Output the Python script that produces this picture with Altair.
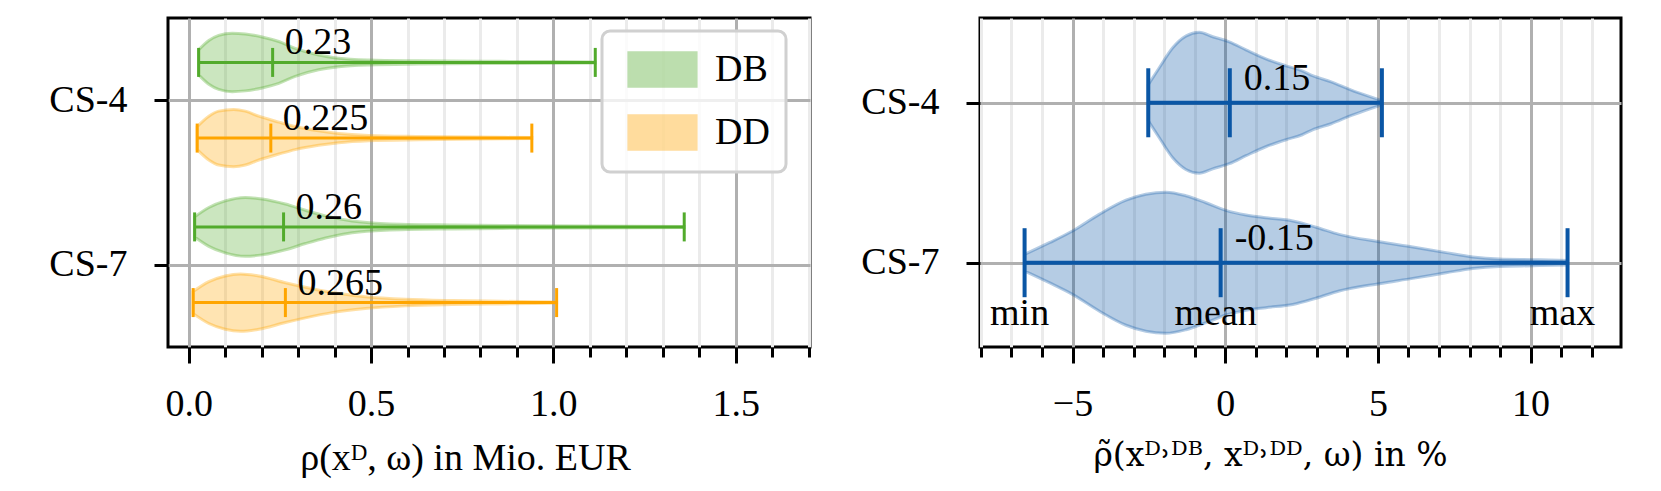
import altair as alt
import pandas as pd

FONT = "Liberation Serif"
FS = 38

# ---------------- data ----------------
cases = ["CS-4", "CS-7"]
case_pos = [1.0, 0.0]
series_names = ["DB", "DD"]
series_offset = [0.23, -0.23]

# left panel violins: x value and half width (in y-axis units)
db4_x = [0.027, 0.055, 0.082, 0.119, 0.155, 0.201, 0.247, 0.292, 0.356, 0.411, 0.494, 0.631, 0.80, 1.0, 1.115]
db4_w = [0.076, 0.133, 0.164, 0.178, 0.173, 0.155, 0.127, 0.085, 0.045, 0.026, 0.015, 0.010, 0.007, 0.005, 0.003]
dd4_x = [0.023, 0.055, 0.082, 0.123, 0.155, 0.192, 0.247, 0.292, 0.356, 0.411, 0.494, 0.631, 0.80, 0.941]
dd4_w = [0.070, 0.133, 0.164, 0.174, 0.164, 0.133, 0.097, 0.070, 0.044, 0.028, 0.016, 0.010, 0.006, 0.003]
db7_x = [0.016, 0.055, 0.100, 0.155, 0.201, 0.265, 0.320, 0.375, 0.448, 0.539, 0.722, 0.859, 1.1, 1.359]
db7_w = [0.061, 0.118, 0.158, 0.179, 0.170, 0.139, 0.101, 0.067, 0.036, 0.020, 0.012, 0.009, 0.006, 0.003]
dd7_x = [0.012, 0.055, 0.100, 0.142, 0.192, 0.265, 0.320, 0.393, 0.484, 0.594, 0.722, 0.859, 1.009]
dd7_w = [0.067, 0.127, 0.162, 0.174, 0.162, 0.121, 0.093, 0.061, 0.036, 0.020, 0.012, 0.008, 0.003]

left_case = ["CS-4", "CS-4", "CS-7", "CS-7"]
left_series = ["DB", "DD", "DB", "DD"]
left_min = [0.027, 0.023, 0.016, 0.012]
left_mean = [0.23, 0.225, 0.26, 0.265]
left_max = [1.115, 0.941, 1.359, 1.009]
left_label = ["0.23", "0.225", "0.26", "0.265"]

# right panel violins
r4_x = [-2.52, -2.16, -1.72, -1.29, -0.85, -0.41, 0.13, 0.68, 1.33, 1.99, 2.52, 2.86, 3.47, 4.11, 4.74, 5.13]
r4_w = [0.113, 0.219, 0.344, 0.417, 0.441, 0.413, 0.381, 0.331, 0.275, 0.231, 0.200, 0.169, 0.131, 0.081, 0.038, 0.013]
r7_x = [-6.57, -5.76, -5.0, -4.13, -3.25, -2.60, -1.94, -1.29, -0.63, 0.02, 0.68, 1.33, 2.21, 2.97, 3.73,
        5.04, 6.14, 7.23, 8.10, 8.97, 10.07, 11.21]
r7_w = [0.052, 0.125, 0.198, 0.302, 0.391, 0.428, 0.441, 0.419, 0.375, 0.327, 0.298, 0.281, 0.261, 0.222, 0.177,
        0.131, 0.098, 0.063, 0.036, 0.023, 0.019, 0.014]

right_case = ["CS-4", "CS-7"]
right_min = [-2.52, -6.57]
right_mean = [0.15, -0.15]
right_max = [5.13, 11.21]
right_label = ["0.15", "-0.15"]
stat_names = ["min", "mean", "max"]

left_ticks = [0.0, 0.1, 0.2, 0.3, 0.4, 0.5, 0.6, 0.7, 0.8, 0.9, 1.0, 1.1, 1.2, 1.3, 1.4, 1.5, 1.6, 1.7]
right_ticks = [-8, -7, -6, -5, -4, -3, -2, -1, 0, 1, 2, 3, 4, 5, 6, 7, 8, 9, 10, 11, 12]

# ---------------- styles ----------------
GREEN = "#52ab2c"
ORANGE = "#ffa500"
BLUE = "#0a56a5"
MAJOR_GRID = "#b0b0b0"
MINOR_GRID = "#ebebeb"

pos = dict(zip(cases, case_pos))
off = dict(zip(series_names, series_offset))

# ---------------- tables ----------------
rows = []
for case, ser, xs, ws in [("CS-4", "DB", db4_x, db4_w), ("CS-4", "DD", dd4_x, dd4_w),
                          ("CS-7", "DB", db7_x, db7_w), ("CS-7", "DD", dd7_x, dd7_w)]:
    c = pos[case] + off[ser]
    for x, w in zip(xs, ws):
        rows.append({"key": case + ser, "series": ser, "x": x, "lo": c - w, "hi": c + w})
viol_left = pd.DataFrame(rows)

stats_left = pd.DataFrame({"series": left_series, "min": left_min, "mean": left_mean,
                           "max": left_max, "label": left_label})
stats_left["center"] = [pos[c] + off[s] for c, s in zip(left_case, left_series)]
ticks_left = stats_left.melt(id_vars=["series", "center"], value_vars=["min", "mean", "max"],
                             var_name="stat", value_name="value")

rows = []
for case, xs, ws in [("CS-4", r4_x, r4_w), ("CS-7", r7_x, r7_w)]:
    c = pos[case]
    for x, w in zip(xs, ws):
        rows.append({"key": case, "x": x, "lo": c - w, "hi": c + w})
viol_right = pd.DataFrame(rows)

stats_right = pd.DataFrame({"min": right_min, "mean": right_mean, "max": right_max, "label": right_label})
stats_right["center"] = [pos[c] for c in right_case]
ticks_right = stats_right.melt(id_vars=["center"], value_vars=["min", "mean", "max"],
                               var_name="stat", value_name="value")
ann_right = ticks_right[ticks_right["center"] == pos["CS-7"]].copy()

# ---------------- axes / scales ----------------
def x_axis(values, minor_test, label_expr, title, title_x, title_font=FONT, title_size=FS):
    return alt.Axis(
        values=values, labelExpr=label_expr, title=title, titleX=title_x,
        titleFont=title_font, titleFontSize=title_size,
        tickSize={"condition": {"test": minor_test, "value": 10}, "value": 16},
        tickWidth=3, tickColor="black",
        gridColor={"condition": {"test": minor_test, "value": MINOR_GRID}, "value": MAJOR_GRID},
        gridWidth=3, domain=False, labelPadding=22, titlePadding=16,
        labelOverlap=False, labelFlush=False,
    )

def y_axis(min_extent):
    return alt.Axis(values=case_pos, labelExpr="datum.value == 1 ? 'CS-4' : 'CS-7'",
                    title=None, grid=True, gridColor=MAJOR_GRID, gridWidth=3,
                    tickSize=14, tickWidth=3, tickColor="black", labelPadding=27,
                    domain=False, minExtent=min_extent, labelFlush=False, labelOverlap=False)

left_minor = "abs(datum.value*2 - round(datum.value*2)) > 0.001"
xs_left = alt.Scale(domain=[-0.057, 1.704], nice=False, zero=False)
ys_left = alt.Scale(domain=[-0.5, 1.5], nice=False, zero=False)
xa_left = x_axis(left_ticks, left_minor,
                 "abs(datum.value*2 - round(datum.value*2)) < 0.001 ? format(datum.value, '.1f') : ''",
                 "ρ(xᴰ, ω) in Mio. EUR", 297)
ya_left = y_axis(158)

right_minor = "datum.value % 5 != 0"
xs_right = alt.Scale(domain=[-8.03, 12.96], nice=False, zero=False)
ys_right = alt.Scale(domain=[-0.527, 1.53], nice=False, zero=False)
xa_right = x_axis(right_ticks, right_minor,
                  "datum.value % 5 == 0 ? format(datum.value, 'd') : ''",
                  "ρ̃(xᴰ˒ᴰᴮ, xᴰ˒ᴰᴰ, ω) in %", 290, "DejaVu Serif", 33)
ya_right = y_axis(121)

color_scale = alt.Scale(domain=series_names, range=[GREEN, ORANGE])
legend = alt.Legend(title=None, orient="none", legendX=434, legendY=13,
                    symbolType="M-1.6,-0.8H1.6V0.8H-1.6Z", symbolSize=1764,
                    symbolStrokeWidth=3, symbolOffset=22, symbolOpacity=0.38,
                    labelFont=FONT, labelFontSize=FS, labelColor="black", labelOffset=30,
                    rowPadding=16, padding=16, strokeColor="#d0d0d0",
                    fillColor="rgba(255,255,255,0.8)", cornerRadius=8)

# ---------------- left panel ----------------
v_l = alt.Chart(viol_left).mark_area(orient="vertical", interpolate="monotone", fillOpacity=0.3,
                                     strokeOpacity=0.35, strokeWidth=3).encode(
    x=alt.X("x:Q", scale=xs_left, axis=xa_left),
    y=alt.Y("lo:Q", scale=ys_left, axis=ya_left),
    y2="hi:Q",
    fill=alt.Fill("series:N", scale=color_scale, legend=legend),
    stroke=alt.Stroke("series:N", scale=color_scale, legend=legend),
    detail="key:N",
)
r_l = alt.Chart(stats_left).mark_rule(strokeWidth=3).encode(
    x=alt.X("min:Q", scale=xs_left, axis=xa_left), x2="max:Q",
    y=alt.Y("center:Q", scale=ys_left, axis=ya_left),
    color=alt.Color("series:N", scale=color_scale, legend=None),
)
t_l = alt.Chart(ticks_left).mark_tick(orient="vertical", size=29, thickness=3, opacity=1).encode(
    x=alt.X("value:Q", scale=xs_left, axis=xa_left),
    y=alt.Y("center:Q", scale=ys_left, axis=ya_left),
    color=alt.Color("series:N", scale=color_scale, legend=None),
)
l_l = alt.Chart(stats_left).mark_text(align="left", baseline="alphabetic", dx=12, dy=-8,
                                      font=FONT, fontSize=FS, color="black").encode(
    x=alt.X("mean:Q", scale=xs_left, axis=xa_left),
    y=alt.Y("center:Q", scale=ys_left, axis=ya_left),
    text="label:N",
)
left = alt.layer(v_l, r_l, t_l, l_l).properties(width=642, height=329)

# ---------------- right panel ----------------
v_r = alt.Chart(viol_right).mark_area(orient="vertical", interpolate="monotone", fill=BLUE, stroke=BLUE,
                                      fillOpacity=0.3, strokeOpacity=0.3, strokeWidth=3).encode(
    x=alt.X("x:Q", scale=xs_right, axis=xa_right),
    y=alt.Y("lo:Q", scale=ys_right, axis=ya_right),
    y2="hi:Q",
    detail="key:N",
)
r_r = alt.Chart(stats_right).mark_rule(strokeWidth=4, color=BLUE).encode(
    x=alt.X("min:Q", scale=xs_right, axis=xa_right), x2="max:Q",
    y=alt.Y("center:Q", scale=ys_right, axis=ya_right),
)
t_r = alt.Chart(ticks_right).mark_tick(orient="vertical", size=69, thickness=4, opacity=1,
                                       color=BLUE).encode(
    x=alt.X("value:Q", scale=xs_right, axis=xa_right),
    y=alt.Y("center:Q", scale=ys_right, axis=ya_right),
)
l_r = alt.Chart(stats_right).mark_text(align="left", baseline="alphabetic", dx=14, dy=-13,
                                       font=FONT, fontSize=FS, color="black").encode(
    x=alt.X("mean:Q", scale=xs_right, axis=xa_right),
    y=alt.Y("center:Q", scale=ys_right, axis=ya_right),
    text="label:N",
)
a_r = alt.Chart(ann_right).mark_text(align="center", baseline="alphabetic", dx=-5, dy=62,
                                     font=FONT, fontSize=FS, color="black").encode(
    x=alt.X("value:Q", scale=xs_right, axis=xa_right),
    y=alt.Y("center:Q", scale=ys_right, axis=ya_right),
    text="stat:N",
)
right = alt.layer(v_r, r_r, t_r, l_r, a_r).properties(width=641, height=329)

chart = alt.hconcat(left, right, spacing=45).properties(
    padding={"left": 0, "top": 8, "right": 0, "bottom": 0},
    background="white",
).configure_view(stroke="black", strokeWidth=3).configure_axis(
    labelFont=FONT, labelFontSize=FS, labelColor="black",
    titleColor="black", titleFontWeight="normal",
).configure_legend(strokeWidth=3)

chart.save("out.html", embed_options={"renderer": "svg", "actions": False})
